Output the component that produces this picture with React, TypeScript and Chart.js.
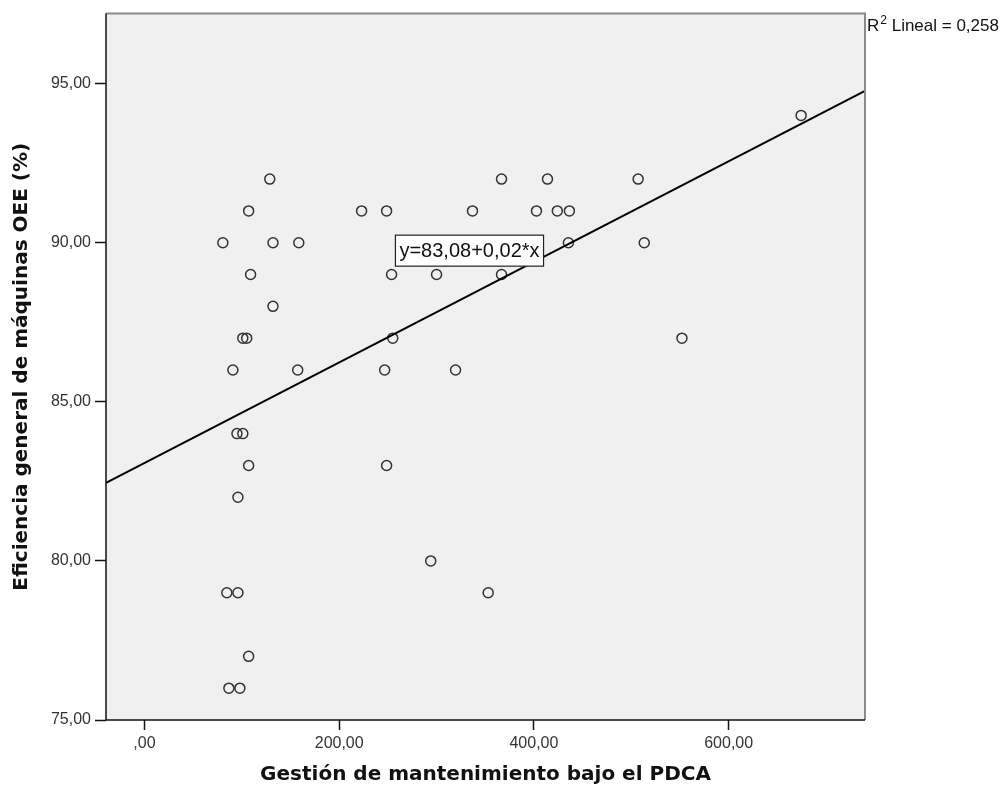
import { useEffect, useRef } from "react";
import { Chart, registerables } from "chart.js";

Chart.register(...registerables);

// Gestión de mantenimiento bajo el PDCA (x) and Eficiencia general OEE % (y)
const pdcaValues = [
  80.5, 107, 128.7, 132, 158.5, 109, 132, 101, 105, 90.8, 157.4, 246.7, 255, 95, 101,
  107, 248.7, 96, 84.6, 96, 107, 86.7, 98, 294, 353, 319.5, 552, 223, 248.7, 336.9,
  366.7, 413.9, 507, 402.6, 424, 436.4, 435.4, 513.3, 253.8, 300, 366.7, 674.4,
];
const oeeValues = [
  90, 91, 92, 90, 90, 89, 88, 87, 87, 86, 86, 86, 87, 84, 84,
  83, 83, 82, 79, 79, 77, 76, 76, 80, 79, 86, 87, 91, 91, 91,
  92, 92, 92, 91, 91, 91, 90, 90, 89, 89, 89, 94,
];

const xTicks = [0, 200, 400, 600];
const yTicks = [75, 80, 85, 90, 95];
const xMin = -39.5;
const xMax = 740;
const yMin = 75;
const yMax = 97.2;

const regIntercept = 83.08;
const regSlope = 0.0158;
const equationText = "y=83,08+0,02*x";
const equationAt = { x: 333.8, y: 89.75 };
const r2Label = " Lineal = 0,258";

const xTitle = "Gestión de mantenimiento bajo el PDCA";
const yTitle = "Eficiencia general de máquinas OEE (%)";

const fmt = (v: number) => {
  const s = v.toFixed(2).replace(".", ",");
  return v === 0 ? ",00" : s;
};

const W = 1008;
const H = 794;
const AREA = { left: 106, right: 865, top: 9, bottom: 720 };

export default function App() {
  const ref = useRef<HTMLCanvasElement | null>(null);

  useEffect(() => {
    if (!ref.current) return;
    const points = pdcaValues.map((x, i) => ({ x, y: oeeValues[i] }));
    const line = [
      { x: xMin, y: regIntercept + regSlope * xMin },
      { x: xMax, y: regIntercept + regSlope * xMax },
    ];

    const decor = {
      id: "decor",
      beforeDraw(chart: any) {
        const { ctx, chartArea: a } = chart;
        ctx.save();
        ctx.fillStyle = "#f0f0f0";
        ctx.fillRect(a.left, a.top, a.right - a.left, a.bottom - a.top);
        ctx.restore();
      },
      afterDraw(chart: any) {
        const { ctx, chartArea: a, scales } = chart;
        ctx.save();
        // top and right frame
        ctx.strokeStyle = "#8a8a8a";
        ctx.lineWidth = 2;
        ctx.beginPath();
        ctx.moveTo(a.left, a.top);
        ctx.lineTo(a.right, a.top);
        ctx.lineTo(a.right, a.bottom);
        ctx.stroke();
        // left and bottom axis lines
        ctx.strokeStyle = "#111";
        ctx.lineWidth = 1.5;
        ctx.beginPath();
        ctx.moveTo(a.left, a.top);
        ctx.lineTo(a.left, a.bottom);
        ctx.lineTo(a.right, a.bottom);
        ctx.stroke();

        // equation label
        const ex = scales.x.getPixelForValue(equationAt.x);
        const ey = scales.y.getPixelForValue(equationAt.y);
        ctx.font = "20px 'Liberation Sans', Arial, sans-serif";
        const tw = ctx.measureText(equationText).width;
        const bw = tw + 8;
        const bh = 31;
        ctx.fillStyle = "#ffffff";
        ctx.fillRect(ex - bw / 2, ey - bh / 2, bw, bh);
        ctx.strokeStyle = "#222";
        ctx.lineWidth = 1.2;
        ctx.strokeRect(ex - bw / 2, ey - bh / 2, bw, bh);
        ctx.fillStyle = "#111";
        ctx.textAlign = "center";
        ctx.textBaseline = "middle";
        ctx.fillText(equationText, ex, ey + 1);

        // R² label
        const rx = a.right + 2;
        const ry = 31;
        ctx.textAlign = "left";
        ctx.textBaseline = "alphabetic";
        ctx.fillStyle = "#111";
        ctx.font = "17px 'Liberation Sans', Arial, sans-serif";
        ctx.fillText("R", rx, ry);
        const rw = ctx.measureText("R").width;
        ctx.font = "12px 'Liberation Sans', Arial, sans-serif";
        ctx.fillText("2", rx + rw + 1, ry - 7);
        const sw = ctx.measureText("2").width;
        ctx.font = "17px 'Liberation Sans', Arial, sans-serif";
        ctx.fillText(r2Label, rx + rw + 1 + sw, ry);
        ctx.restore();
      },
    };

    const chart = new Chart(ref.current, {
      type: "scatter",
      data: {
        datasets: [
          {
            type: "scatter",
            data: points,
            pointRadius: 5,
            pointHoverRadius: 5,
            pointBorderWidth: 1.5,
            pointBorderColor: "#333333",
            pointBackgroundColor: "rgba(0,0,0,0)",
            order: 2,
          },
          {
            type: "line",
            data: line,
            borderColor: "#000000",
            borderWidth: 2,
            pointRadius: 0,
            fill: false,
            order: 1,
          } as any,
        ],
      },
      options: {
        responsive: false,
        animation: false,
        events: [],
        layout: {
          padding: { left: 0, right: W - AREA.right, top: AREA.top, bottom: 0 },
        },
        plugins: {
          legend: { display: false },
          tooltip: { enabled: false },
        },
        scales: {
          x: {
            type: "linear",
            min: xMin,
            max: xMax,
            afterBuildTicks: (s: any) => {
              s.ticks = xTicks.map((v) => ({ value: v }));
            },
            afterFit: (s: any) => {
              s.height = H - AREA.bottom;
            },
            grid: {
              drawOnChartArea: false,
              drawTicks: true,
              tickLength: 10,
              tickColor: "#111",
              tickWidth: 1.5,
            },
            border: { display: false },
            ticks: {
              padding: 4,
              color: "#333",
              font: { family: "'Liberation Sans', Arial, sans-serif", size: 16 },
              callback: (v: any) => fmt(Number(v)),
              maxRotation: 0,
            },
            title: {
              display: true,
              text: xTitle,
              color: "#111",
              font: { family: "'DejaVu Sans', sans-serif", size: 20, weight: "bold" },
              padding: { top: 0, bottom: 7 },
            },
          },
          y: {
            type: "linear",
            min: yMin,
            max: yMax,
            afterBuildTicks: (s: any) => {
              s.ticks = yTicks.map((v) => ({ value: v }));
            },
            afterFit: (s: any) => {
              s.width = AREA.left;
            },
            grid: {
              drawOnChartArea: false,
              drawTicks: true,
              tickLength: 11,
              tickColor: "#111",
              tickWidth: 1.5,
            },
            border: { display: false },
            ticks: {
              padding: 4,
              color: "#333",
              font: { family: "'Liberation Sans', Arial, sans-serif", size: 16 },
              callback: (v: any) => fmt(Number(v)),
            },
            title: {
              display: true,
              text: yTitle,
              color: "#111",
              font: { family: "'DejaVu Sans', sans-serif", size: 20, weight: "bold" },
              padding: { top: 10, bottom: 0 },
            },
          },
        },
      },
      plugins: [decor],
    });

    return () => chart.destroy();
  }, []);

  return (
    <div style={{ position: "absolute", left: 0, top: 0, width: W, height: H, background: "#fff" }}>
      <canvas ref={ref} width={W} height={H} style={{ width: W, height: H, display: "block" }} />
    </div>
  );
}
